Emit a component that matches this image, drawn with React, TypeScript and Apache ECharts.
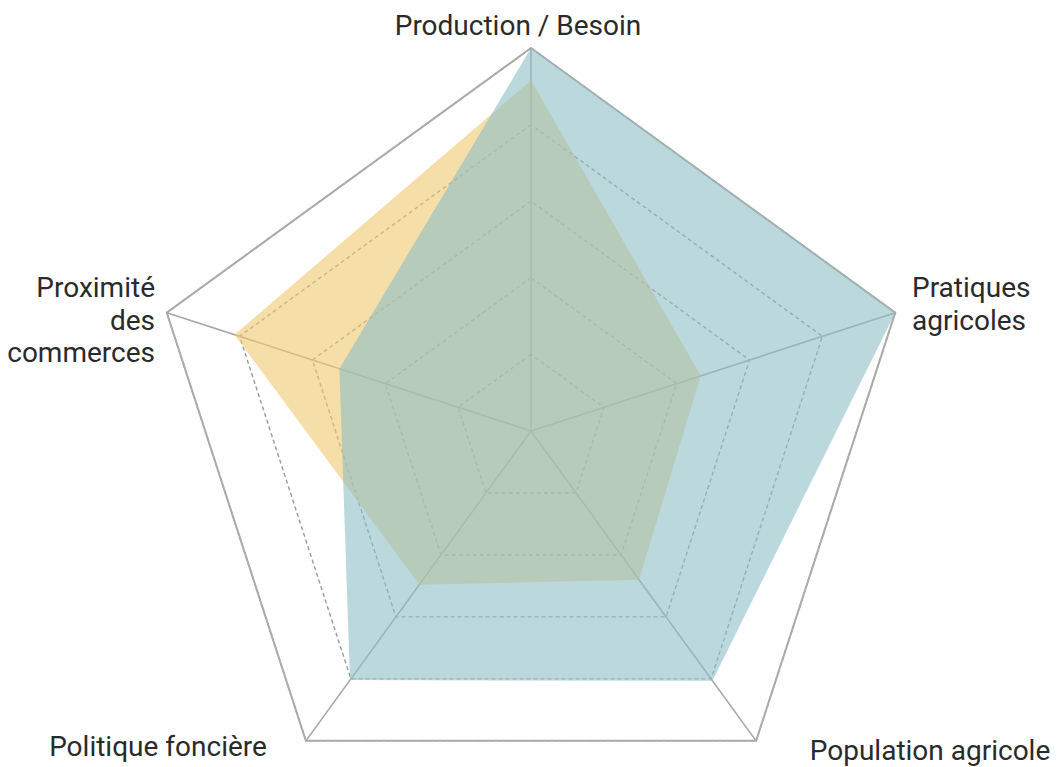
import React, { useEffect, useRef } from "react";
import * as echarts from "echarts";

// Indicators, counter-clockwise from the top (ECharts radar order)
const indicators = [
  "Production / Besoin",
  "Proximité\ndes\ncommerces",
  "Politique foncière",
  "Population agricole",
  "Pratiques\nagricoles",
];
const axisMax = 5;

const seriesNames = ["Série orange", "Série bleue"];
const orangeValues = [4.58, 4.07, 2.48, 2.4, 2.33];
const blueValues = [5, 2.63, 4.02, 4.03, 5];

// label placements (layout only)
const labelLayout = [
  { x: 518, y: 25, align: "center" },
  { x: 155, y: 320, align: "right" },
  { x: 158, y: 746, align: "center" },
  { x: 930, y: 750, align: "center" },
  { x: 912, y: 304, align: "left" },
];

export default function App() {
  const ref = useRef<HTMLDivElement>(null);
  useEffect(() => {
    if (!ref.current) return;
    const chart = echarts.init(ref.current, null, { renderer: "svg" });
    const center = [531, 431];
    const radius = 383;
    const ind = indicators.map((n) => ({ name: n, min: 0, max: axisMax }));
    chart.setOption({
      animation: false,
      backgroundColor: "#ffffff",
      radar: [
        {
          center,
          radius,
          startAngle: 90,
          splitNumber: 5,
          shape: "polygon",
          indicator: ind,
          axisName: { show: false },
          axisLine: { lineStyle: { color: "#a6a6a6", width: 1.6 } },
          splitLine: { lineStyle: { color: "#999999", width: 1.4, type: [4, 3] } },
          splitArea: { show: false },
        },
        {
          center,
          radius,
          startAngle: 90,
          splitNumber: 1,
          shape: "polygon",
          indicator: ind,
          axisName: { show: false },
          axisLine: { show: false },
          splitLine: { lineStyle: { color: "#ababab", width: 2 } },
          splitArea: { show: false },
        },
      ],
      series: [
        {
          type: "radar",
          radarIndex: 0,
          symbol: "none",
          lineStyle: { width: 0, opacity: 0 },
          data: [
            {
              name: seriesNames[0],
              value: orangeValues,
              areaStyle: { color: "rgb(240,200,112)", opacity: 0.6 },
            },
            {
              name: seriesNames[1],
              value: blueValues,
              areaStyle: { color: "rgb(142,190,198)", opacity: 0.6 },
            },
          ],
        },
      ],
      graphic: indicators.map((name, i) => ({
        type: "text",
        x: labelLayout[i].x,
        y: labelLayout[i].y,
        silent: true,
        style: {
          text: name,
          align: labelLayout[i].align,
          verticalAlign: "middle",
          fontFamily: "Roboto",
          fontSize: 28,
          lineHeight: 32.5,
          fill: "#2a2a2a",
        },
      })),
    });
    return () => chart.dispose();
  }, []);
  return (
    <div
      ref={ref}
      style={{ position: "absolute", left: 0, top: 0, width: "1059px", height: "767px" }}
    />
  );
}
